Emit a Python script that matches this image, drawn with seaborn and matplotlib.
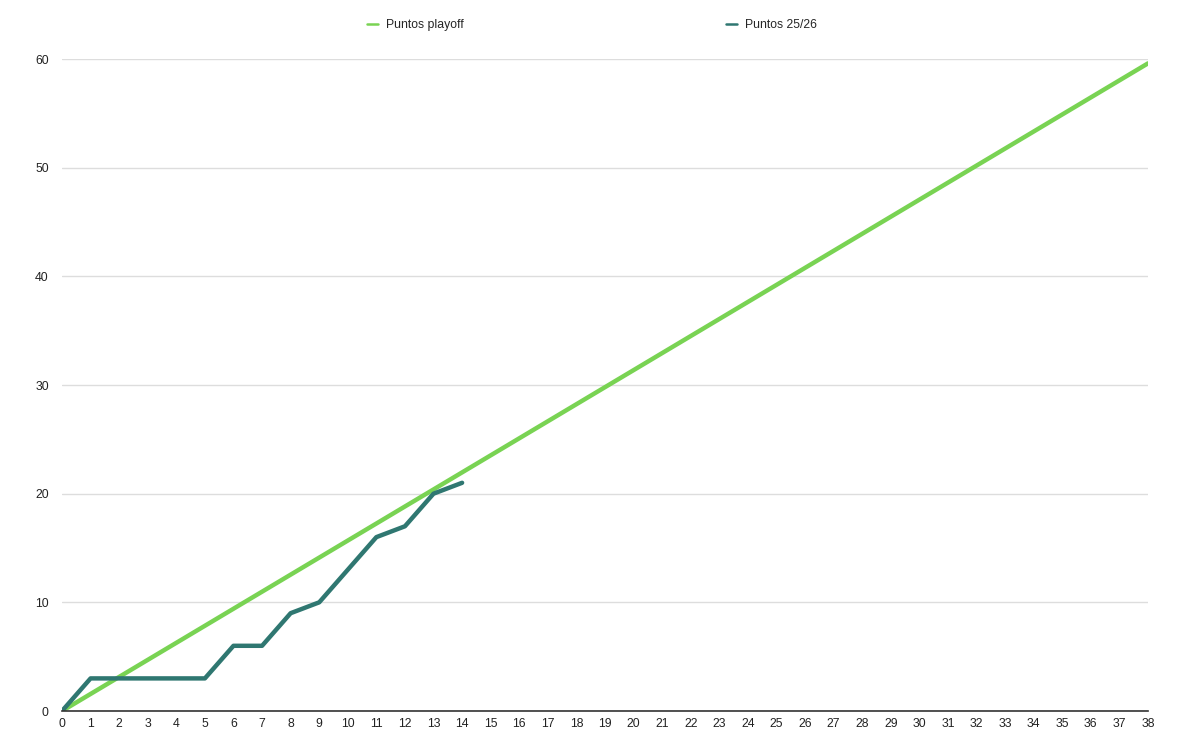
import pandas as pd
import seaborn as sns
import matplotlib.pyplot as plt

# jornadas y puntos
jornadas_temp = [0, 1, 2, 3, 4, 5, 6, 7, 8, 9, 10, 11, 12, 13, 14]
puntos_temp = [0, 3, 3, 3, 3, 3, 6, 6, 9, 10, 13, 16, 17, 20, 21]

# ritmo de playoff (recta de 0 a la jornada 38)
jornadas_playoff = [0, 38]
puntos_playoff = [0, 59.6]

x_ticks = list(range(0, 39))
y_ticks = [0, 10, 20, 30, 40, 50, 60]

df = pd.concat([
    pd.DataFrame({"Jornada": jornadas_playoff, "Puntos": puntos_playoff, "Serie": "Puntos playoff"}),
    pd.DataFrame({"Jornada": jornadas_temp, "Puntos": puntos_temp, "Serie": "Puntos 25/26"}),
])

sns.set_style("white")
plt.rcParams['font.family'] = ['Liberation Sans', 'DejaVu Sans']

fig = plt.figure(figsize=(12, 7.5), dpi=100)
ax = fig.add_axes([62 / 1200, 39 / 750, (1148 - 62) / 1200, (711 - 59) / 750])

palette = {"Puntos playoff": "#79d353", "Puntos 25/26": "#2f7771"}
sns.lineplot(data=df, x="Jornada", y="Puntos", hue="Serie", palette=palette,
             linewidth=3.2, ax=ax, legend=False, zorder=3)

ax.set_xlim(0, 38)
ax.set_ylim(0, 60)
ax.set_xticks(x_ticks)
ax.set_yticks(y_ticks)
ax.tick_params(axis='both', length=0, labelsize=8.8, colors='#222222')
ax.tick_params(axis='x', pad=5)
ax.tick_params(axis='y', pad=9.5)
ax.yaxis.grid(True, color='#dddddd', linewidth=1)
ax.set_xlabel("")
ax.set_ylabel("")
for s in ['top', 'right', 'left']:
    ax.spines[s].set_visible(False)
ax.spines['bottom'].set_color('#333333')
ax.spines['bottom'].set_linewidth(1.2)
ax.spines['bottom'].set_zorder(4)

handles = [plt.Line2D([], [], color=palette["Puntos playoff"], lw=1.8),
           plt.Line2D([], [], color=palette["Puntos 25/26"], lw=1.8)]
fig.legend(handles, ["Puntos playoff", "Puntos 25/26"], loc='center',
           bbox_to_anchor=(592 / 1200, 1 - 25 / 750), ncol=2, frameon=False,
           fontsize=8.8, handlelength=0.9, handletextpad=0.6, columnspacing=21.5)

fig.savefig("out.png", dpi=100)
